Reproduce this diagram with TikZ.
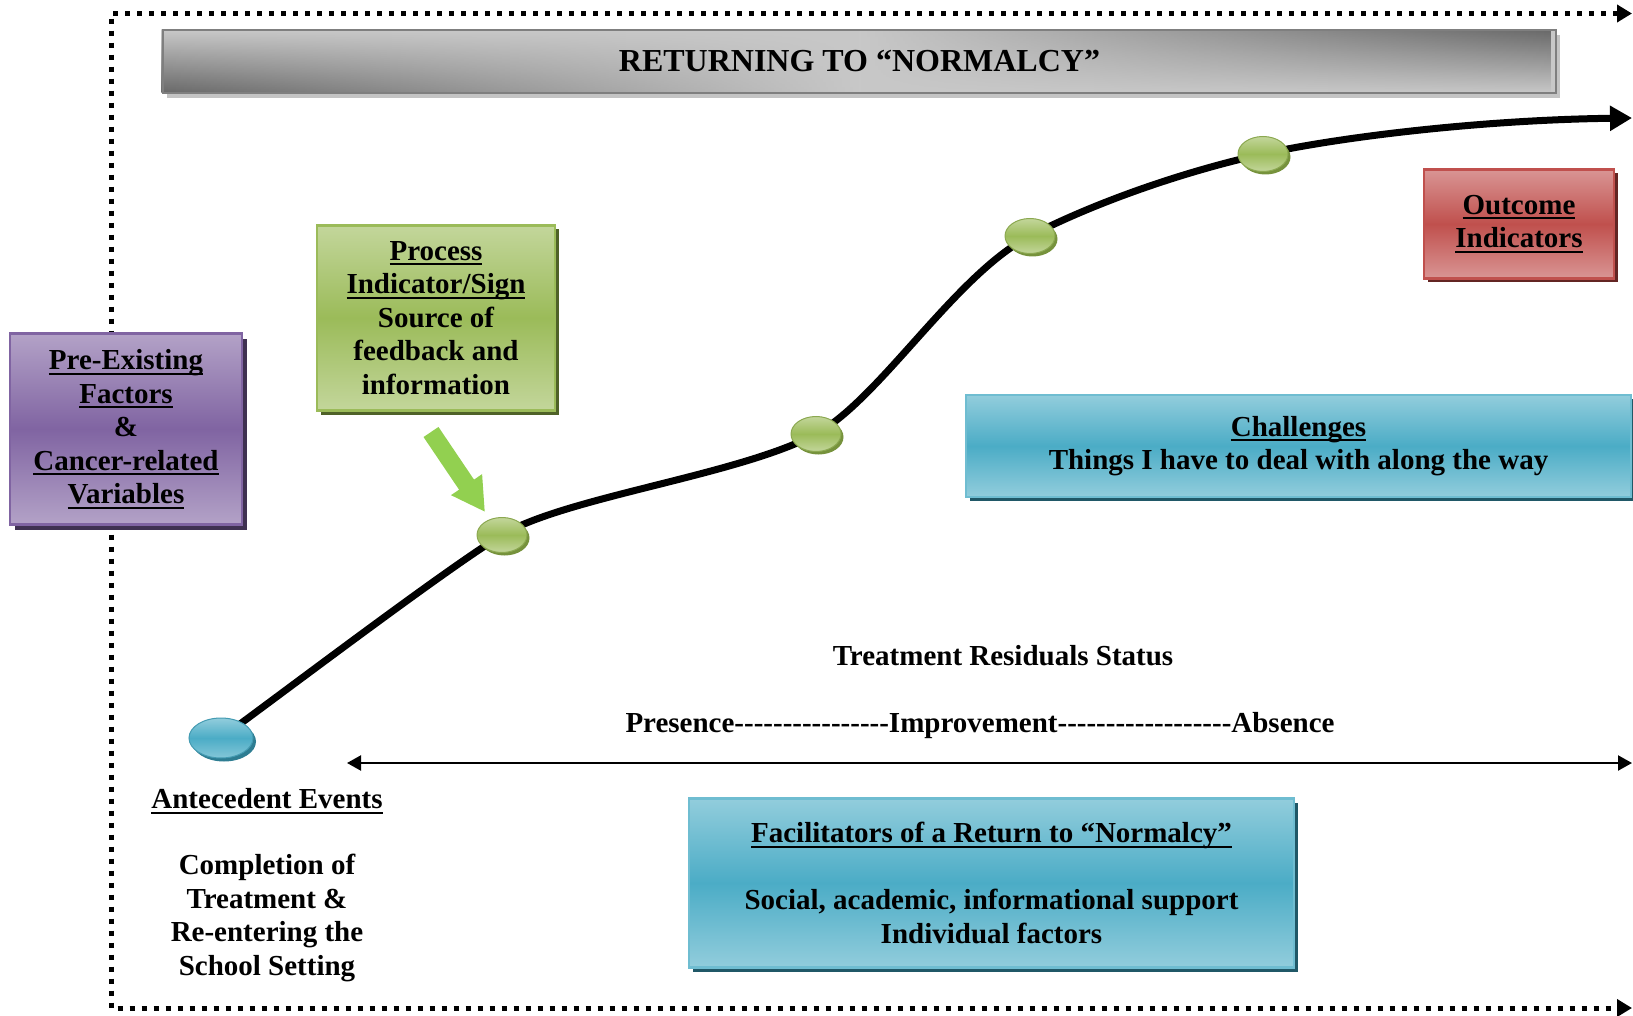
\documentclass[tikz,border=0pt]{standalone}
\usepackage{fontspec}
\setmainfont{Liberation Serif}
\usetikzlibrary{arrows.meta,shadows,fadings,backgrounds,shapes.geometric}

% palette
\definecolor{plight}{HTML}{B3A2C7}
\definecolor{pmid}{HTML}{8064A2}
\definecolor{pshadow}{HTML}{3F3151}
\definecolor{glight}{HTML}{C3D69B}
\definecolor{gmid}{HTML}{9BBB59}
\definecolor{gshadow}{HTML}{4F6228}
\definecolor{gdot}{HTML}{76923C}
\definecolor{rlight}{HTML}{D99594}
\definecolor{rmid}{HTML}{C0504D}
\definecolor{rshadow}{HTML}{632523}
\definecolor{blight}{HTML}{92CDDC}
\definecolor{bmid}{HTML}{4BACC6}
\definecolor{bshadow}{HTML}{205867}
\definecolor{bdot}{HTML}{2E7D92}
\definecolor{arrowgreen}{HTML}{92D050}
\definecolor{barlight}{HTML}{C8C8C8}
\definecolor{bardark}{HTML}{686868}
\definecolor{barline}{HTML}{7F7F7F}
\definecolor{barshadow}{HTML}{C4C4C4}

% thick underline that sits just below the baseline
\newsavebox\ulinebox
\newcommand\ul[1]{\leavevmode\sbox\ulinebox{#1}\rlap{\vrule width\wd\ulinebox height -3pt depth 5pt}\usebox\ulinebox}
% a run of separate hyphens (no dash ligatures)
\newcommand\hyphens[1]{\foreach \k in {1,...,#1}{\mbox{-}}}
\newcommand\bodyfont{\fontsize{29}{33.5}\selectfont\bfseries}
\newcommand\headfont{\fontsize{32}{38}\selectfont\bfseries}

\tikzfading[name=fadeleft, left color=transparent!0, right color=transparent!100, middle color=transparent!100]
\tikzfading[name=faderight, left color=transparent!100, right color=transparent!0, middle color=transparent!100]

\tikzset{
  panel/.style={rectangle, line width=2.5pt, align=center, font=\bodyfont, inner sep=0pt},
  purplebox/.style={panel, draw=pmid, top color=plight, bottom color=plight, middle color=pmid,
    drop shadow={shadow xshift=5pt, shadow yshift=-5pt, fill=pshadow, opacity=1}},
  greenbox/.style={panel, draw=gmid, top color=glight, bottom color=glight, middle color=gmid,
    drop shadow={shadow xshift=4pt, shadow yshift=-4pt, fill=gshadow, opacity=1}},
  redbox/.style={panel, draw=rmid, top color=rlight, bottom color=rlight, middle color=rmid,
    drop shadow={shadow xshift=4pt, shadow yshift=-4pt, fill=rshadow, opacity=1}},
  bluebox/.style={panel, draw=bmid!80!white, top color=blight, bottom color=blight, middle color=bmid,
    drop shadow={shadow xshift=4pt, shadow yshift=-4pt, fill=bshadow, opacity=1}},
  greendot/.style={ellipse, minimum width=50pt, minimum height=35pt, inner sep=0pt,
    draw=gmid!90!black, line width=1pt, top color=glight, bottom color=glight, middle color=gmid,
    drop shadow={shadow xshift=2.5pt, shadow yshift=-3pt, fill=gdot, opacity=1}},
  bluedot/.style={ellipse, minimum width=64pt, minimum height=40pt, inner sep=0pt,
    draw=bmid!90!black, line width=1pt, top color=blight, bottom color=blight!80!bmid, middle color=bmid,
    drop shadow={shadow xshift=3pt, shadow yshift=-3.5pt, fill=bdot, opacity=1}},
  label/.style={align=center, font=\bodyfont, inner sep=0pt},
  frame/.style={line width=5pt, dash pattern=on 5pt off 7pt,
    {Triangle[length=15pt,width=17pt]}-{Triangle[length=15pt,width=17pt]}},
  journey/.style={line width=7pt, -{Triangle[length=22pt,width=24pt]}},
  pointer/.style={line width=18pt, draw=arrowgreen, -{Triangle[length=33pt,width=35pt]}},
  span/.style={line width=2.2pt, {Triangle[length=14pt,width=15pt]}-{Triangle[length=14pt,width=15pt]}},
}

\begin{document}
\begin{tikzpicture}[x=1pt, y=-1pt]
\useasboundingbox (0,0) rectangle (1633,1016);

% dotted frame with arrows on the top and bottom edges
\coordinate (ftr) at (1632,13.5);
\coordinate (ftl) at (111,13.5);
\coordinate (fbl) at (111,1008);
\coordinate (fbr) at (1632,1008);
\draw[frame] (ftr) -- (ftl) -- (fbl) -- (fbr);

% title bar with metallic shading
\fill[barshadow] (167,35) rectangle (1560,98);
\fill[barlight] (163,30) rectangle (1556,93);
\shade[top color=barlight, bottom color=bardark, path fading=fadeleft] (163,30) rectangle (1556,93);
\shade[top color=bardark, bottom color=barlight, path fading=faderight] (163,30) rectangle (1556,93);
\node[draw=barline, line width=2.5pt, minimum width=1393pt, minimum height=63pt, inner sep=0pt,
      font=\headfont] (title) at (859.5,61.5) {RETURNING TO “NORMALCY”};

% boxes
\node[purplebox, minimum width=232pt, minimum height=191pt] (preexisting) at (126,429)
  {\ul{Pre-Existing}\\\ul{Factors}\\\&\\\ul{Cancer-related}\\\ul{Variables}};
\node[greenbox, minimum width=238pt, minimum height=185pt] (process) at (436,318)
  {\ul{Process}\\\ul{Indicator/Sign}\\Source of\\feedback and\\information};
\node[redbox, minimum width=190pt, minimum height=109pt] (outcome) at (1519,224)
  {\ul{Outcome}\\\ul{Indicators}};
\node[bluebox, minimum width=665pt, minimum height=102pt] (challenges) at (1298.5,446)
  {\ul{Challenges}\\Things I have to deal with along the way};
\node[bluebox, minimum width=605pt, minimum height=169pt] (facilitators) at (991.5,883)
  {\ul{Facilitators of a Return to “Normalcy”}\\[33.5pt]Social, academic, informational support\\Individual factors};

% milestones along the path
\node[bluedot] (start) at (221,738) {};
\node[greendot] (m1) at (502,535) {};
\node[greendot] (m2) at (816,434) {};
\node[greendot] (m3) at (1030,236) {};
\node[greendot] (m4) at (1263,154) {};
\coordinate (finish) at (1632,118);

\begin{scope}[on background layer]
\draw[journey] (start.center)
  .. controls (300,680) and (445,570) .. (m1.center)
  .. controls (565,497) and (740,475) .. (m2.center)
  .. controls (880,399) and (955,275) .. (m3.center)
  .. controls (1100,200) and (1190,170) .. (m4.center)
  .. controls (1340,137) and (1480,120) .. (finish);
\end{scope}

% pointer from the process indicator to the first milestone
\coordinate (ptail) at (431,432);
\coordinate (ptip) at (485,512);
\draw[pointer] (ptail) -- (ptip);

% labels
\node[label] (antecedent) at (267,801) {\ul{Antecedent Events}};
\node[label] (completion) at (267,918) {Completion of\\Treatment \&\\Re-entering the\\School Setting};
\node[label] (residuals) at (1003,656) {Treatment Residuals Status};
\node[label] (status) at (980,726) {Presence\hyphens{16}Improvement\hyphens{18}Absence};

% residual status scale
\coordinate (sl) at (347,763);
\coordinate (sr) at (1632,763);
\draw[span] (sl) -- (sr);
\end{tikzpicture}
\end{document}
